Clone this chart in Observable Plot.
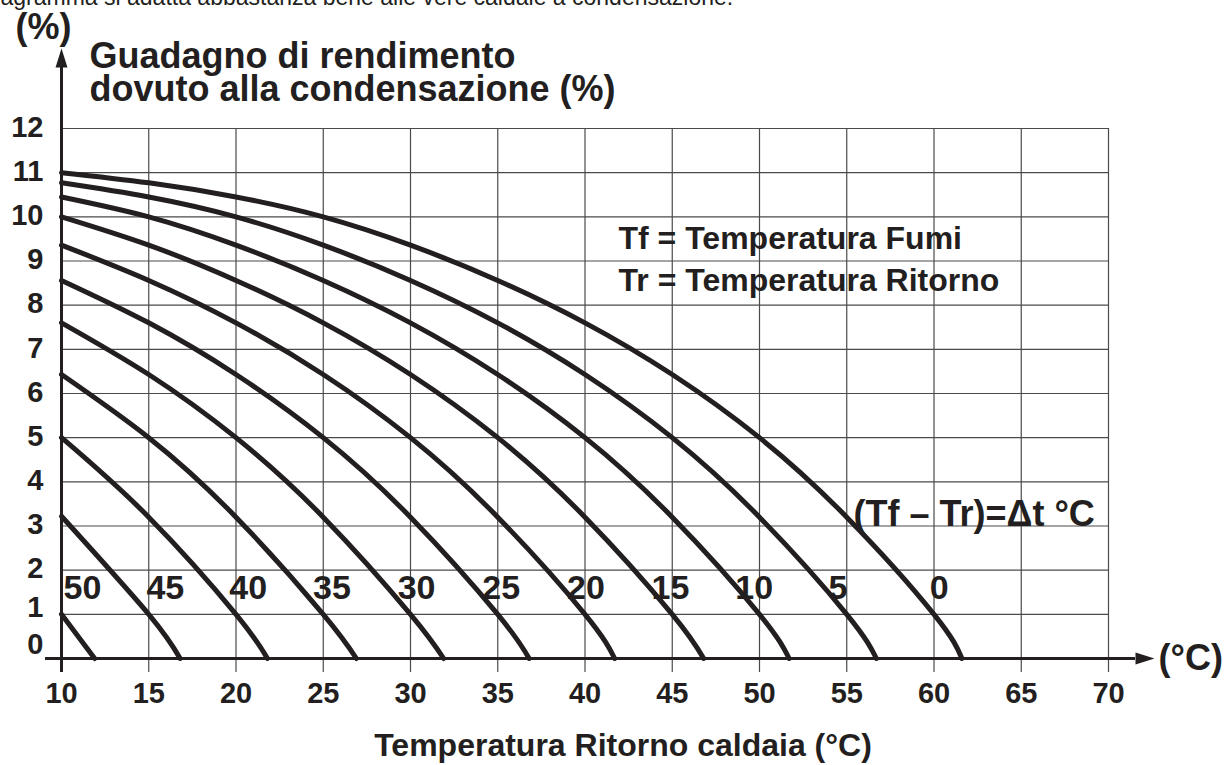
<!DOCTYPE html>
<html>
<head>
<meta charset="utf-8">
<script src="https://cdn.jsdelivr.net/npm/d3@7"></script>
<script src="https://cdn.jsdelivr.net/npm/@observablehq/plot@0.6"></script>
<style>
  html, body { margin: 0; padding: 0; background: #fff; }
  #chart { width: 1228px; height: 765px; overflow: hidden; }
</style>
</head>
<body>
<div id="chart"></div>
<script>
// ---- data ----
const deltaT = [0, 5, 10, 15, 20, 25, 30, 35, 40, 45, 50];          // (Tf - Tr) curve labels
const gridTemps = [10, 15, 20, 25, 30, 35, 40, 45, 50, 55, 60];     // return temperature where values were read
const gainRead = [                                                   // gain (%) at gridTemps, per curve
  [11.0, 10.77, 10.45, 10.0, 9.36, 8.56, 7.6, 6.43, 5.0, 3.2, 1.0],
  [10.77, 10.45, 10.0, 9.36, 8.56, 7.6, 6.43, 5.0, 3.2, 1.0],
  [10.45, 10.0, 9.36, 8.56, 7.6, 6.43, 5.0, 3.2, 1.0],
  [10.0, 9.36, 8.56, 7.6, 6.43, 5.0, 3.2, 1.0],
  [9.36, 8.56, 7.6, 6.43, 5.0, 3.2, 1.0],
  [8.56, 7.6, 6.43, 5.0, 3.2, 1.0],
  [7.6, 6.43, 5.0, 3.2, 1.0],
  [6.43, 5.0, 3.2, 1.0],
  [5.0, 3.2, 1.0],
  [3.22, 1.0],
  [1.0]
];
const zeroCrossing = [61.6, 56.7, 51.7, 46.8, 41.7, 36.8, 31.9, 26.9, 21.8, 16.8, 11.9]; // temp where gain = 0
const labelTemp = [60.3, 54.5, 49.7, 44.9, 40.05, 35.2, 30.35, 25.5, 20.7, 15.95, 11.2];
const labelGain = 1.6;
const xTicks = [10, 15, 20, 25, 30, 35, 40, 45, 50, 55, 60, 65, 70];
const yTicks = [0, 1, 2, 3, 4, 5, 6, 7, 8, 9, 10, 11, 12];
const xDomain = [10, 70];
const yDomain = [0, 12];

const topNote = "agramma si adatta abbastanza bene alle vere caldaie a condensazione.";
const yTitle1 = "Guadagno di rendimento";
const yTitle2 = "dovuto alla condensazione (%)";
const yUnit = "(%)";
const xUnit = "(°C)";
const xTitle = "Temperatura Ritorno caldaia (°C)";
const legend1 = "Tf = Temperatura Fumi";
const legend2 = "Tr = Temperatura Ritorno";
const deltaText = "(Tf – Tr)=Δt °C";

// ---- build table ----
const rows = [];
deltaT.forEach((dt, i) => {
  gainRead[i].forEach((g, j) => rows.push({dt, T: gridTemps[j], g}));
  rows.push({dt, T: zeroCrossing[i], g: 0});
});
const labels = deltaT.map((dt, i) => ({dt, T: labelTemp[i], g: labelGain}));

const ink = "#231f20";
const gridColor = "#4a4a4a";
const arrowHead = {
  draw(ctx) {
    ctx.moveTo(0, -19);
    ctx.lineTo(6, 0);
    ctx.lineTo(-6, 0);
    ctx.closePath();
  }
};
const bold = {fontWeight: "bold", fill: ink};

const chart = Plot.plot({
  width: 1228,
  height: 765,
  marginLeft: 61,
  marginRight: 120,
  marginTop: 128,
  marginBottom: 107,
  x: {domain: xDomain, axis: null},
  y: {domain: yDomain, axis: null},
  style: {fontFamily: "'Liberation Sans', Arial, sans-serif", background: "#fff", color: ink, overflow: "visible"},
  marks: [
    // grid
    Plot.ruleX(xTicks.slice(1), {x: d => d, stroke: gridColor, strokeWidth: 1.2, insetBottom: -14}),
    Plot.ruleY(yTicks.slice(1), {y: d => d, stroke: gridColor, strokeWidth: 1.2}),
    // axes
    Plot.ruleX([xDomain[0]], {x: d => d, stroke: ink, strokeWidth: 3, insetTop: -61, insetBottom: -14}),
    Plot.ruleY([yDomain[0]], {y: d => d, stroke: ink, strokeWidth: 3, insetLeft: -16, insetRight: -27}),
    Plot.dot([xDomain[0]], {x: d => d, y: () => yDomain[1], dy: -61, symbol: arrowHead, fill: ink, stroke: null}),
    Plot.dot([xDomain[1]], {x: d => d, y: () => yDomain[0], dx: 27, rotate: 90, symbol: arrowHead, fill: ink, stroke: null}),
    // tick labels
    Plot.text(xTicks, {x: d => d, frameAnchor: "bottom", dy: 44, lineAnchor: "bottom", textAnchor: "middle",
      fontSize: 29, ...bold}),
    Plot.text(yTicks.filter(v => v >= 2), {y: d => d, frameAnchor: "left", dx: -18, dy: -1, textAnchor: "end",
      lineAnchor: "middle", fontSize: 29, ...bold}),
    Plot.text(yTicks.filter(v => v === 1), {y: d => d, frameAnchor: "left", dx: -18, dy: -7, textAnchor: "end",
      lineAnchor: "middle", fontSize: 29, ...bold}),
    Plot.text(yTicks.filter(v => v === 0), {y: d => d, frameAnchor: "left", dx: -18, dy: -14, textAnchor: "end",
      lineAnchor: "middle", fontSize: 29, ...bold}),
    // curve labels
    Plot.text(labels, {x: "T", y: "g", text: d => String(d.dt), textAnchor: "middle", lineAnchor: "middle",
      fontSize: 34, ...bold}),
    // curves
    Plot.line(rows, {x: "T", y: "g", z: "dt", curve: "natural", stroke: ink, strokeWidth: 5}),
    // texts
    Plot.text([topNote], {frameAnchor: "top-left", dx: -61, dy: -124, textAnchor: "start", lineAnchor: "bottom",
      fontSize: 23, fill: ink}),
    Plot.text([yUnit], {frameAnchor: "top-left", dx: -18, dy: -90, textAnchor: "middle", lineAnchor: "bottom",
      fontSize: 36, ...bold}),
    Plot.text([yTitle1], {frameAnchor: "top-left", dx: 28, dy: -61, textAnchor: "start", lineAnchor: "bottom",
      fontSize: 36, ...bold}),
    Plot.text([yTitle2], {frameAnchor: "top-left", dx: 28, dy: -28, textAnchor: "start", lineAnchor: "bottom",
      fontSize: 36, ...bold}),
    Plot.text([legend1], {frameAnchor: "top-left", dx: 557, dy: 120, textAnchor: "start", lineAnchor: "bottom",
      fontSize: 32, ...bold}),
    Plot.text([legend2], {frameAnchor: "top-left", dx: 557, dy: 162, textAnchor: "start", lineAnchor: "bottom",
      fontSize: 32, ...bold}),
    Plot.text([deltaText], {frameAnchor: "top-left", dx: 792, dy: 397, textAnchor: "start", lineAnchor: "bottom",
      fontSize: 36, ...bold}),
    Plot.text([xUnit], {frameAnchor: "bottom-right", dx: 50, dy: 11, textAnchor: "start", lineAnchor: "bottom",
      fontSize: 36, ...bold}),
    Plot.text([xTitle], {frameAnchor: "bottom", dx: 38, dy: 97, textAnchor: "middle", lineAnchor: "bottom",
      fontSize: 32, ...bold})
  ]
});
document.getElementById("chart").appendChild(chart);
</script>
</body>
</html>
